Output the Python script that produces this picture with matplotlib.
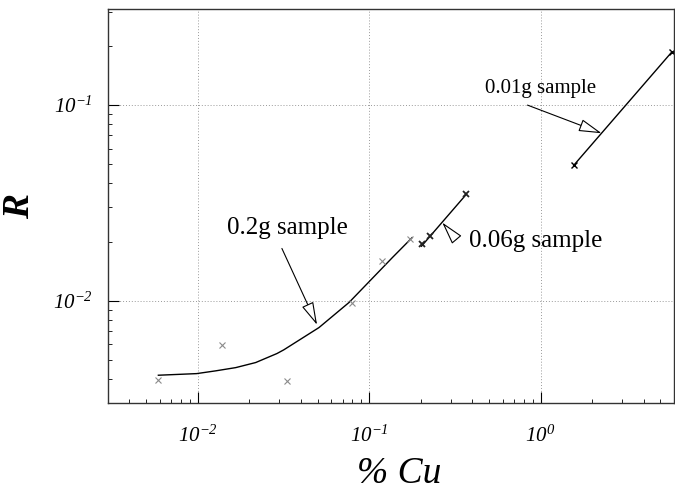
import numpy as np
import matplotlib
matplotlib.use("Agg")
import matplotlib.pyplot as plt
from matplotlib.ticker import FuncFormatter, LogLocator

plt.rcParams['font.family'] = ['Liberation Serif', 'DejaVu Serif']
plt.rcParams['mathtext.fontset'] = 'custom'
plt.rcParams['mathtext.rm'] = 'Liberation Serif:italic'
plt.rcParams['mathtext.it'] = 'Liberation Serif:italic'

# --- data ---
# 0.2g sample: measured points and fitted curve
cu_02 = [0.0059, 0.0138, 0.0331, 0.0796, 0.119, 0.174]
r_02 = [0.00392, 0.00593, 0.00389, 0.00977, 0.0160, 0.0208]
fit_cu_02 = [0.0059, 0.00987, 0.01274, 0.01667, 0.0218, 0.029, 0.0318,
             0.051, 0.0764, 0.1114, 0.1365, 0.178]
fit_r_02 = [0.00416, 0.00424, 0.00438, 0.00455, 0.00483, 0.00537, 0.00561,
            0.00729, 0.0098, 0.0138, 0.0166, 0.0210]

# 0.06g sample
cu_006 = [0.204, 0.2275, 0.369]
r_006 = [0.0194, 0.0213, 0.0350]
fit_cu_006 = [0.202, 0.369]
fit_r_006 = [0.0190, 0.0350]

# 0.01g sample
cu_001 = [1.56, 5.83]
r_001 = [0.0492, 0.187]

fig = plt.figure(figsize=(6.75, 4.9), dpi=100)
ax = fig.add_axes([108 / 675, 87 / 490, 566 / 675, 394 / 490])
ax.set_xscale('log')
ax.set_yscale('log')
ax.set_xlim(0.003, 6.0)
ax.set_ylim(0.003, 0.31)

ax.plot(fit_cu_02, fit_r_02, color='black', lw=1.0)
ax.plot(cu_02, r_02, ls='none', marker='x', ms=4, mew=0.8, color='#8a8a8a')

ax.plot(fit_cu_006, fit_r_006, color='black', lw=1.0)
ax.plot(cu_006, r_006, ls='none', marker='x', ms=5, mew=1.3, color='#222222')

ax.plot(cu_001, r_001, color='black', lw=1.0, marker='x', ms=5, mew=1.0)

# annotations with hollow arrow heads
arrow = dict(arrowstyle='-|>,head_length=1.1,head_width=0.3', fc='white',
             ec='black', lw=0.8, mutation_scale=13, shrinkA=0, shrinkB=0)
ax.annotate('', xy=(0.0497, 0.00753), xytext=(0.031, 0.0185), arrowprops=arrow)
ax.text(0.0336, 0.0234, '0.2g sample', fontsize=18, ha='center', va='center')

ax.annotate('', xy=(0.267, 0.0251), xytext=(0.323, 0.0206), arrowprops=arrow)
ax.text(0.385, 0.0201, '0.06g sample', fontsize=18, ha='left', va='center')

ax.annotate('', xy=(2.27, 0.0718), xytext=(0.839, 0.1), arrowprops=arrow)
ax.text(0.476, 0.122, '0.01g sample', fontsize=15, ha='left', va='center')

# axes styling
ax.grid(True, which='major', color='#9a9a9a', ls=(0, (1, 2)), lw=0.7)
ax.xaxis.set_major_locator(LogLocator(base=10, numticks=10))
ax.yaxis.set_major_locator(LogLocator(base=10, numticks=10))
fmt = FuncFormatter(lambda v, p: r'$10^{%d}$' % int(round(np.log10(v))))
ax.xaxis.set_major_formatter(fmt)
ax.yaxis.set_major_formatter(fmt)
ax.tick_params(which='both', direction='in', top=False, right=False)
ax.tick_params(which='major', length=8, width=0.8, labelsize=15)
ax.tick_params(which='minor', length=3, width=0.6)
ax.tick_params(axis='x', which='major', pad=16)
ax.tick_params(axis='y', which='major', pad=11)
for s in ax.spines.values():
    s.set_color('#333333')
    s.set_linewidth(1.0)

ax.set_xlabel('% Cu', fontsize=27, style='italic')
ax.set_ylabel('R', fontsize=27, style='italic', weight='bold', rotation=90)
ax.xaxis.set_label_coords(0.515, -0.135)
ax.yaxis.set_label_coords(-0.125, 0.5)

fig.savefig('out.png', dpi=100)
